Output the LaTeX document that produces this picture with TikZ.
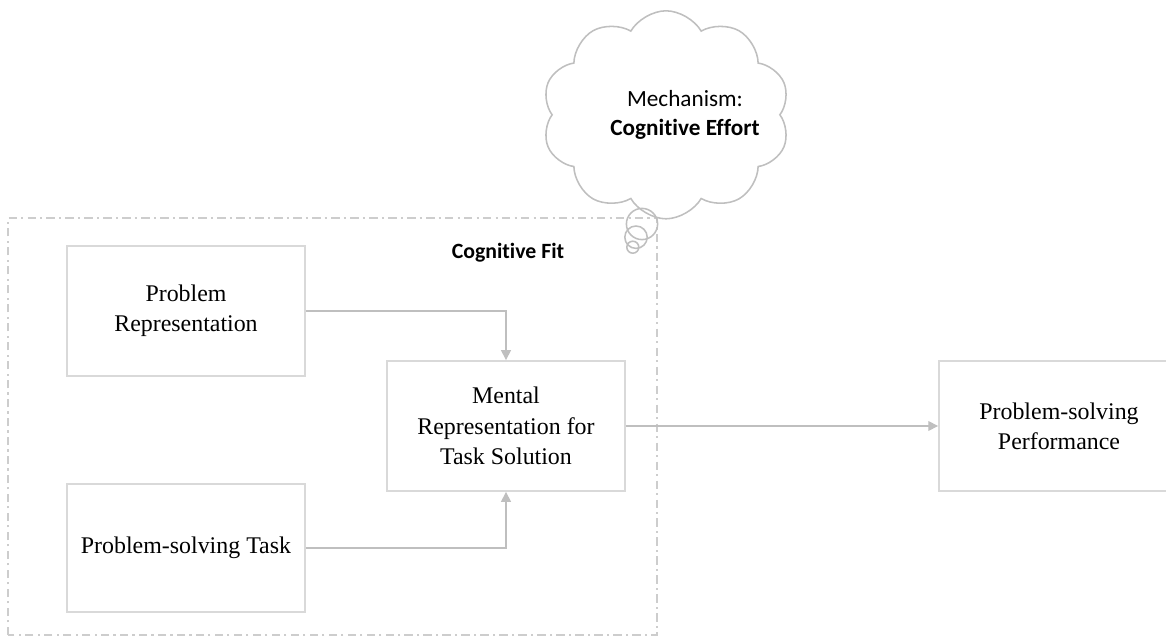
\documentclass[tikz,border=0pt]{standalone}
\usepackage{fontspec}
\setmainfont{Liberation Serif}
\newfontfamily\calib[Ligatures=NoCommon]{Carlito}
\usetikzlibrary{arrows.meta,shapes.symbols}
\definecolor{boxgray}{RGB}{217,217,217}
\definecolor{arrowgray}{RGB}{191,191,191}
\definecolor{cloudgray}{RGB}{191,191,191}
\definecolor{framegray}{RGB}{205,205,205}

\begin{document}
\begin{tikzpicture}[scale=1,
  box/.style={draw=boxgray,line width=1.3pt,minimum width=5.95cm,minimum height=3.25cm,align=center,font=\fontsize{17}{21.5}\selectfont},
  flow/.style={draw=arrowgray,line width=0.9pt,-{Triangle[length=7pt,width=7pt]}},
  bubble/.style={draw=cloudgray,line width=1.1pt}]
\useasboundingbox (0,0) rectangle (29.15,15.95);

% Frame - Cognitive fit
\draw[framegray,line width=1pt,dash pattern=on 6pt off 3pt on 1.5pt off 3pt] (0.2,0.075) rectangle (16.425,10.5);
\node (fit) at (12.7,9.62) {\calib\fontsize{15.5}{19}\selectfont\bfseries Cognitive Fit};

% Boxes
\node[box] (pr) at (4.65,8.175) {Problem\\Representation};
\node[box,minimum height=3.2cm] (task) at (4.65,2.25) {Problem-solving Task};
\node[box] (mental) at (12.65,5.3) {Mental\\Representation for\\Task Solution};
\node[box,minimum width=6cm] (perf) at (26.475,5.3) {Problem-solving\\Performance};

% Arrows
\draw[flow] (pr.east) -| (mental.north);
\draw[flow] (task.east) -| (mental.south);
\draw[flow] (mental.east) -- (perf.west);

% Cloud - Mechanism
\node[cloud,bubble,cloud puffs=10,cloud puff arc=120,cloud ignores aspect,minimum width=6.2cm,minimum height=5.2cm] (mech) at (16.65,13.08) {};
\node[align=center,font=\calib\fontsize{16.5}{21}\selectfont] (effort) at (17.125,13.075) {Mechanism:\\\textbf{Cognitive Effort}};
\draw[bubble] (16.05,10.35) circle (0.39);
\draw[bubble] (15.9,10.02) circle (0.28);
\draw[bubble] (15.82,9.77) circle (0.15);
\end{tikzpicture}
\end{document}
